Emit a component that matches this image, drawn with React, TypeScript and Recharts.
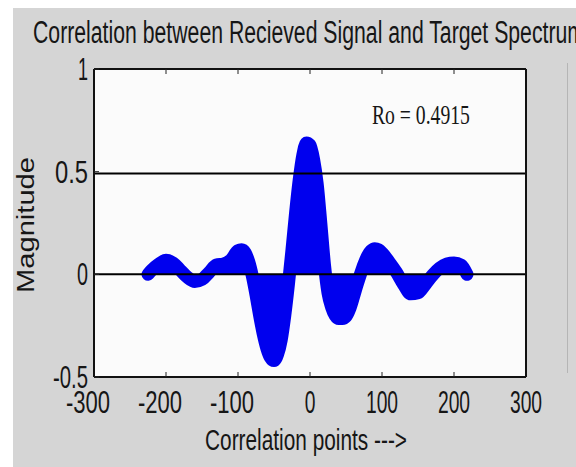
import React from 'react';
import { ComposedChart, Area, XAxis, YAxis, CartesianGrid, ReferenceLine, ReferenceDot } from 'recharts';

// correlation lag (x) and magnitude
const lags = [
  -225, -220, -210, -200, -190, -180, -170, -160, -150, -140, -130, -120, -110, -100, -95, -90, -85, -80,
  -75, -70, -65, -60, -55, -50, -45, -40, -35, -30, -25, -20, -15, -10, -5, 0, 5, 10, 15, 20, 25, 30, 35,
  40, 45, 50, 55, 60, 65, 70, 75, 80, 85, 90, 95, 100, 110, 120, 130, 140, 150, 160, 170, 180, 190, 200,
  210, 218,
];
const magnitude = [
  0.0, 0.02, 0.05, 0.068, 0.055, 0.02, -0.015, -0.035, -0.025, 0.01, 0.045, 0.05, 0.07, 0.115, 0.12, 0.105,
  0.06, -0.01, -0.1, -0.2, -0.29, -0.36, -0.405, -0.42, -0.39, -0.32, -0.2, -0.05, 0.12, 0.3, 0.46, 0.58,
  0.64, 0.63, 0.56, 0.44, 0.25, 0.05, -0.09, -0.16, -0.2, -0.215, -0.215, -0.205, -0.17, -0.115, -0.055,
  0.0, 0.05, 0.09, 0.115, 0.125, 0.12, 0.105, 0.06, 0.01, -0.05, -0.095, -0.09, -0.05, -0.005, 0.03, 0.05,
  0.055, 0.045, 0.0,
];
const xTicks = [-300, -200, -100, 0, 100, 200, 300];
const yTicks = [-0.5, 0, 0.5, 1];
const ro = 0.4915;

const data = lags.map((x, i) => ({ x, corr: magnitude[i] }));

const SANS = '"Liberation Sans", Arial, sans-serif';
const INK = '#161616';
const DIGIT = 10.7;

const yLabelWidth: { [k: string]: number } = { '-0.5': 35, '0': 11, '0.5': 33, '1': 10 };

function XTick({ x, payload }: any) {
  const label = String(payload.value);
  const neg = label.startsWith('-');
  const n = label.replace('-', '').length;
  const w = n * DIGIT + (neg ? 12 : 0);
  return (
    <text x={x + (n * DIGIT) / 2} y={413} textAnchor="end" fontSize={32} fontFamily={SANS} fill={INK}
      textLength={w} lengthAdjust="spacingAndGlyphs">
      {label}
    </text>
  );
}

function YTick({ y, payload }: any) {
  const label = String(payload.value);
  return (
    <text x={88} y={y + 11} textAnchor="end" fontSize={32} fontFamily={SANS} fill={INK}
      textLength={yLabelWidth[label] || 11} lengthAdjust="spacingAndGlyphs">
      {label}
    </text>
  );
}

const NoTick = () => <g />;

function RoLabel({ cx, cy }: any) {
  return (
    <text x={cx} y={cy} fontSize={27} fontFamily='"Liberation Serif", "Times New Roman", serif' fill={INK}
      textLength={98} lengthAdjust="spacingAndGlyphs">
      Ro = {ro}
    </text>
  );
}

export default function App() {
  return (
    <div style={{ position: 'absolute', left: 0, top: 0, width: 576, height: 467, background: '#fff', overflow: 'hidden' }}>
      <div style={{ position: 'absolute', left: 13, top: 8, right: 0, bottom: 0, background: '#d5d5d5' }} />
      <div style={{ position: 'absolute', left: 567, top: 63, width: 1, height: 310, background: '#b5b5b5' }} />
      <div style={{ position: 'absolute', left: 0, top: 0 }}>
        <ComposedChart width={576} height={467} data={data} margin={{ top: 68, right: 49, bottom: 50, left: 54 }}>
          <CartesianGrid horizontal={false} vertical={false} fill="#fbfbfb" />
          <XAxis dataKey="x" type="number" domain={[-300, 300]} ticks={xTicks} allowDataOverflow height={40}
            tick={XTick} tickSize={-5} tickLine={{ stroke: '#222' }} axisLine={{ stroke: '#111', strokeWidth: 2 }} />
          <XAxis xAxisId="top" orientation="top" dataKey="x" type="number" domain={[-300, 300]} ticks={xTicks}
            height={1} tick={NoTick} tickSize={-5} tickLine={{ stroke: '#222' }} axisLine={{ stroke: '#111', strokeWidth: 2 }} />
          <YAxis type="number" domain={[-0.5, 1]} ticks={yTicks} width={40} tick={YTick} tickSize={-5}
            tickLine={{ stroke: '#222' }} axisLine={{ stroke: '#111', strokeWidth: 2 }} />
          <YAxis yAxisId="right" orientation="right" type="number" domain={[-0.5, 1]} ticks={yTicks} width={1}
            tick={NoTick} tickSize={-5} tickLine={{ stroke: '#222' }} axisLine={{ stroke: '#111', strokeWidth: 2 }} />
          <Area type="monotone" dataKey="corr" baseValue={0} stroke="#0000ee" strokeWidth={13}
            strokeLinecap="round" strokeLinejoin="round" fill="#0000ee" fillOpacity={1}
            isAnimationActive={false} dot={false} activeDot={false} />
          <ReferenceLine y={0} stroke="#000" strokeWidth={2} />
          <ReferenceLine y={ro} stroke="#000" strokeWidth={2} />
          <ReferenceDot x={86} y={0.733} r={0} shape={RoLabel} />
        </ComposedChart>
      </div>
      <svg width={576} height={467} style={{ position: 'absolute', left: 0, top: 0, pointerEvents: 'none' }}>
        <text x={33} y={43} fontSize={31} fontFamily={SANS} fill={INK} textLength={552} lengthAdjust="spacingAndGlyphs">
          Correlation between Recieved Signal and Target Spectrum
        </text>
        <text x={306} y={450} textAnchor="middle" fontSize={29} fontFamily={SANS} fill={INK} textLength={202}
          lengthAdjust="spacingAndGlyphs">
          Correlation points ---&gt;
        </text>
        <text transform="translate(34,225) rotate(-90)" textAnchor="middle" fontSize={23} fontFamily={SANS} fill={INK}
          textLength={136} lengthAdjust="spacingAndGlyphs">
          Magnitude
        </text>
      </svg>
    </div>
  );
}
